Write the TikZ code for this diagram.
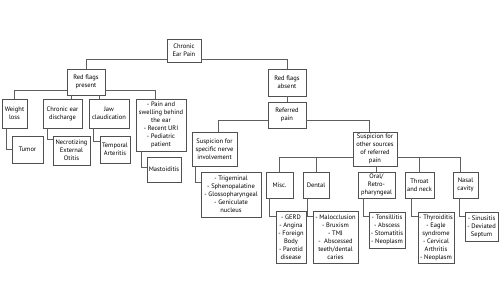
\documentclass[tikz,border=0pt]{standalone}
\usepackage{fontspec}
\setmainfont{PT Sans}
\definecolor{boxc}{RGB}{80,80,80}
\definecolor{linec}{RGB}{95,95,95}
\definecolor{txt}{RGB}{0,0,0}
\tikzset{
  box/.style={draw=boxc, line width=0.8pt, fill=white, inner sep=0pt, align=center,
    text=txt, font=\fontsize{6.5}{8}\selectfont},
  conn/.style={draw=linec, line width=0.8pt}
}
\newcommand{\bx}[6]{% name, x1,y1,x2,y2, text
  \node[box, minimum width={(#4-#2)*1pt}, minimum height={(#5-#3)*1pt}] (#1) at ({(#2+#4)/2},{(#3+#5)/2}) {#6};}
\begin{document}
\begin{tikzpicture}[x=1pt,y=-1pt]
\useasboundingbox[fill=white] (0,0) rectangle (500,281);
\bx{chronic}{167}{39}{201}{62}{Chronic\\Ear Pain}
\bx{rfp}{67}{69}{105}{95}{Red flags\\present}
\bx{rfa}{268}{69}{306}{96}{Red flags\\absent}
\bx{weight}{2}{99}{27}{128}{Weight\\loss}
\bx{ced}{43}{99}{82}{128}{Chronic ear\\discharge}
\bx{jaw}{89}{99}{129}{128}{Jaw\\claudication}
\bx{pain}{136}{99}{186}{151}{- Pain and\\swelling behind\\the ear\\- Recent URI\\- Pediatric\\patient}
\bx{tumor}{12}{136}{43}{163}{Tumor}
\bx{neo}{53}{136}{90}{165}{Necrotizing\\External\\Otitis}
\bx{temp}{100}{136}{130}{163}{Temporal\\Arteritis}
\bx{mast}{147}{157}{181}{182}{Mastoiditis}
\bx{ref}{268}{102}{306}{128}{Referred\\pain}
\bx{nerve}{192}{132}{237}{166}{Suspicion for\\specific nerve\\involvement}
\bx{other}{353}{132}{397}{166}{Suspicion for\\other sources\\of referred\\pain}
\bx{nlist}{201}{172}{261}{217}{- Trigeminal\\- Sphenopalatine\\- Glossopharyngeal\\- Geniculate\\nucleus}
\bx{misc}{266}{172}{293}{198}{Misc.}
\bx{dental}{303}{172}{329}{198}{Dental}
\bx{oral}{358}{172}{395}{198}{Oral/\\Retro-\\pharyngeal}
\bx{throat}{405}{172}{434}{198}{Throat\\and neck}
\bx{nasal}{453}{172}{478}{198}{Nasal\\cavity}
\bx{gerd}{276}{211}{306}{263}{- GERD\\- Angina\\- Foreign\\Body\\- Parotid\\disease}
\bx{maloc}{313}{211}{358}{263}{- Malocclusion\\- Bruxism\\- TMJ\\- \ Abscessed\\teeth/dental\\caries}
\bx{tons}{369}{212}{405}{248}{- Tonsillitis\\- Abscess\\- Stomatitis\\- Neoplasm}
\bx{thyro}{418}{212}{454}{263}{- Thyroiditis\\- Eagle\\syndrome\\- Cervical\\Arthritis\\- Neoplasm}
\bx{sinus}{465}{212}{498}{241}{- Sinusitis\\- Deviated\\Septum}
\coordinate (obl) at ([yshift=9pt]other.south west);
\coordinate (obr) at ([yshift=9pt]other.south east);
% connectors
\begin{scope}[every path/.style={conn}]
\draw ([yshift=3pt]chronic.south west) -| (rfp.north);
\draw ([yshift=3pt]chronic.south east) -| (rfa.north);
\draw ([yshift=5pt]rfp.south west) -| (weight.north);
\draw ([xshift=-15pt]rfp.south) -- ([xshift=-15pt]rfp.south |- ced.north);
\draw ([xshift=13pt]rfp.south) -- ([xshift=13pt]rfp.south |- jaw.north);
\draw ([yshift=5pt]rfp.south east) -| ([xshift=-6pt]pain.north);
\draw ([xshift=5pt]weight.south west) |- (tumor.west);
\draw ([xshift=5pt]ced.south west) |- ([yshift=-4pt]neo.north west);
\draw ([xshift=5pt]jaw.south west) |- ([yshift=-6pt]temp.north west);
\draw ([xshift=6pt]pain.south west) |- ([yshift=-11pt]mast.north west);
\draw (rfa.south) -- (ref.north);
\draw ([yshift=8pt]ref.south west) -| ([xshift=3.5pt]nerve.north);
\draw ([yshift=8pt]ref.south east) -| ([xshift=-6pt]other.north);
\draw ([xshift=4pt]nerve.south west) |- ([yshift=-11pt]nlist.north west);
\draw (obl) -| (misc.north);
\draw (dental.north) -- (dental.north |- obl);
\draw (oral.north |- other.south) -- (oral.north);
\draw (obr) -| ([xshift=-5pt]nasal.north);
\draw (throat.north) -- (throat.north |- obr);
\draw ([xshift=4pt]misc.south west) |- ([yshift=-6pt]gerd.north west);
\draw ([xshift=5pt]dental.south west) |- ([yshift=-6pt]maloc.north west);
\draw ([xshift=6pt]oral.south west) |- ([yshift=-5pt]tons.north west);
\draw ([xshift=7pt]throat.south west) |- ([yshift=-5pt]thyro.north west);
\draw ([xshift=7pt]nasal.south west) |- ([yshift=-5pt]sinus.north west);
\end{scope}
\end{tikzpicture}
\end{document}
